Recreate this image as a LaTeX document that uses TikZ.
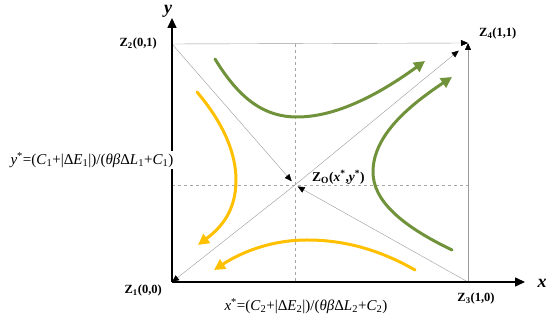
\documentclass[tikz,border=0pt]{standalone}
\usepackage{fontspec}
\setmainfont{Liberation Serif}
\usetikzlibrary{arrows.meta}
\definecolor{leafgreen}{RGB}{112,146,58}
\definecolor{amber}{RGB}{255,192,0}
\begin{document}
\begin{tikzpicture}[x=1pt,y=1pt,
  axis/.style={line width=1.6pt,-{Triangle[length=10pt,width=9pt]}},
  edge/.style={gray!80,line width=.4pt},
  guide/.style={gray!70,line width=.4pt,dashed},
  flow/.style={line width=3pt,line cap=round,-{Triangle[length=11pt,width=11pt]}},
  corner/.style={font=\fontsize{12.5}{14}\selectfont\bfseries,inner sep=1pt},
  eqn/.style={font=\fontsize{15}{17}\selectfont,inner sep=1pt}]
 \path[use as bounding box] (0,0) rectangle (550,315);
 \coordinate (Z1) at (172,33);
 \coordinate (Z2) at (172,271);
 \coordinate (Z3) at (468,33);
 \coordinate (Z4) at (468,272);
 \coordinate (ZO) at (295,130);
 \coordinate (yend) at (172,297);
 \coordinate (xend) at (525,33);
 \draw[guide] (Z1|-ZO) -- (Z3|-ZO);
 \draw[guide] (ZO|-Z2) -- (ZO|-Z1);
 \draw[edge,-{Triangle[length=7pt,width=6pt,black]}] (Z2) -- (Z4);
 \draw[edge,-{Triangle[length=7pt,width=6pt,black]}] (Z3) -- (Z4);
 \draw[edge,-{Triangle[length=7pt,width=6pt,black]},shorten >=5pt] (Z2) -- (ZO);
 \draw[edge,-{Triangle[length=7pt,width=6pt,black]},shorten >=3pt] (Z3) -- (ZO);
 \draw[edge,-{Triangle[length=7pt,width=6pt,black]}] (ZO) -- (Z1);
 \draw[edge,-{Triangle[length=7pt,width=6pt,black]},shorten >=12pt] (ZO) -- (Z4);
 \draw[flow,leafgreen] (215,256) .. controls (240,215) and (265,198) .. (297,198) .. controls (340,198) and (385,225) .. (425,254);
 \draw[flow,leafgreen] (452,65) .. controls (400,90) and (373,115) .. (373,143) .. controls (373,180) and (410,210) .. (452,238);
 \draw[flow,amber] (197,223) .. controls (225,190) and (236,160) .. (236,135) .. controls (236,105) and (222,88) .. (198,70);
 \draw[flow,amber] (415,45) .. controls (380,65) and (345,75) .. (307,75) .. controls (270,75) and (240,62) .. (214,45);
 \draw[axis] (Z1) -- (yend);
 \draw[axis] (Z1) -- (xend);
 \node[eqn,fill=white] (yeq) at (92,155) {\textit{y}\textsuperscript{*}=(\textit{C}\textsubscript{1}+|Δ\textit{E}\textsubscript{1}|)/(\textit{θβ}Δ\textit{L}\textsubscript{1}+\textit{C}\textsubscript{1})};
 \node[font=\fontsize{18}{20}\selectfont\bfseries\itshape] (ylab) at (168,304) {y};
 \node[font=\fontsize{18}{20}\selectfont\bfseries\itshape] (xlab) at (542,32) {x};
 \node[corner,anchor=east] (l2) at (158,271) {Z\textsubscript{2}(0,1)};
 \node[corner,anchor=east] (l1) at (163,24) {Z\textsubscript{1}(0,0)};
 \node[corner] (l3) at (476,16) {Z\textsubscript{3}(1,0)};
 \node[corner,anchor=west] (l4) at (478,281) {Z\textsubscript{4}(1,1)};
 \node[corner,anchor=west,font=\fontsize{13.5}{15}\selectfont\bfseries] (lo) at (311,138) {Z\textsubscript{O}(\textit{x}\textsuperscript{*},\textit{y}\textsuperscript{*})};
 \node[eqn] (xeq) at (306,9) {\textit{x}\textsuperscript{*}=(\textit{C}\textsubscript{2}+|Δ\textit{E}\textsubscript{2}|)/(\textit{θβ}Δ\textit{L}\textsubscript{2}+\textit{C}\textsubscript{2})};
\end{tikzpicture}
\end{document}
